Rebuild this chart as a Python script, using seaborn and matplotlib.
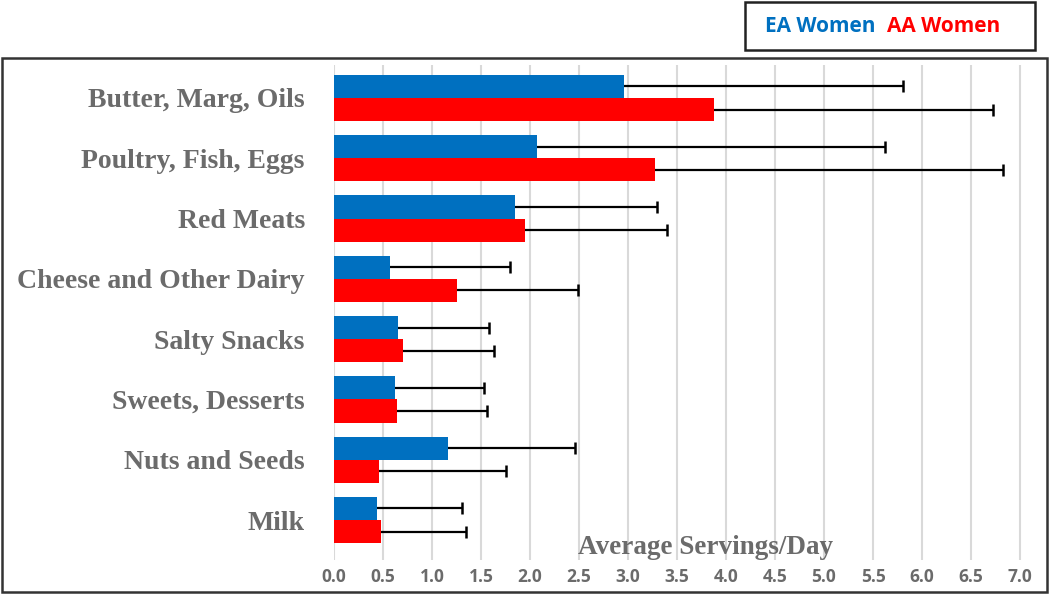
import numpy as np
import pandas as pd
import matplotlib.pyplot as plt
import seaborn as sns
from matplotlib.patches import Rectangle

# Données
categories = ["Butter, Marg, Oils", "Poultry, Fish, Eggs", "Red Meats", "Cheese and Other Dairy",
              "Salty Snacks", "Sweets, Desserts", "Nuts and Seeds", "Milk"]
ea_mean = [2.96, 2.07, 1.85, 0.57, 0.65, 0.62, 1.16, 0.44]
ea_sd = [2.85, 3.55, 1.45, 1.23, 0.93, 0.91, 1.30, 0.87]
aa_mean = [3.88, 3.28, 1.95, 1.26, 0.70, 0.64, 0.46, 0.48]
aa_sd = [2.84, 3.55, 1.45, 1.23, 0.93, 0.92, 1.30, 0.87]
groups = ["EA Women", "AA Women"]
colors = ["#0070C0", "#FF0000"]
xticks = [0.0, 0.5, 1.0, 1.5, 2.0, 2.5, 3.0, 3.5, 4.0, 4.5, 5.0, 5.5, 6.0, 6.5, 7.0]

df = pd.DataFrame({
    "food": categories * 2,
    "group": [groups[0]] * len(categories) + [groups[1]] * len(categories),
    "servings": ea_mean + aa_mean,
})

sns.set_style("white")
fig = plt.figure(figsize=(10.5, 5.95), dpi=100)
ax = fig.add_axes([334 / 1050, 1 - 560 / 595, (7.16 * 98.0) / 1050, (560 - 65) / 595])

sns.barplot(data=df, x="servings", y="food", hue="group", hue_order=groups,
            palette=colors, saturation=1, orient="h", width=0.77, dodge=True, legend=False,
            edgecolor="none", ax=ax, zorder=2)

# Barres d'erreur (un seul côté, capuchon à droite seulement)
for cont, sd in zip(ax.containers, [ea_sd, aa_sd]):
    xs = np.array([b.get_width() for b in cont])
    ys = np.array([b.get_y() + b.get_height() / 2 for b in cont])
    ends = xs + np.array(sd)
    ax.hlines(ys, xs, ends, color="black", linewidth=1.6, zorder=3)
    ax.plot(ends, ys, linestyle="none", marker="|", markersize=9, markeredgewidth=1.8,
            color="black", zorder=3)

ax.set_xlim(0, 7.16)
ax.set_ylim(7 + 40 / 60.3, -33 / 60.3)
ax.set_xticks(xticks)
ax.set_xticklabels([f"{t:.1f}" for t in xticks], fontsize=12.5, color="#6b6b6b",
                   fontweight="bold", family="Open Sans")
ax.set_yticks(range(len(categories)))
ax.set_yticklabels(categories, fontsize=20, color="#6b6b6b", fontweight="bold",
                   family="Liberation Serif")
ax.tick_params(axis="y", length=0, pad=21)
ax.tick_params(axis="x", length=0, pad=6)
ax.grid(axis="x", color="#d9d9d9", linewidth=1.5, zorder=0)
ax.set_axisbelow(True)
for s in ax.spines.values():
    s.set_visible(False)
ax.set_xlabel("")
ax.set_ylabel("")

fig.text(706 / 1050, 1 - 548 / 595, "Average Servings/Day", ha="center", va="center",
         fontsize=19.5, fontweight="bold", color="#6b6b6b", family="Liberation Serif")

# Cadre extérieur
fig.patches.append(Rectangle((2 / 1050, 1 - 592 / 595), 1045 / 1050, 534 / 595,
                             transform=fig.transFigure, fill=False, edgecolor="#333333",
                             linewidth=1.8))
# Légende
fig.patches.append(Rectangle((745 / 1050, 1 - 50 / 595), 290 / 1050, 48 / 595,
                             transform=fig.transFigure, fill=False, edgecolor="#222222",
                             linewidth=1.8))
fig.text(765 / 1050, 1 - 26 / 595, "EA Women", ha="left", va="center", fontsize=15,
         fontweight="bold", color=colors[0], family="Open Sans")
fig.text(1000 / 1050, 1 - 26 / 595, "AA Women", ha="right", va="center", fontsize=15,
         fontweight="bold", color=colors[1], family="Open Sans")

fig.savefig("out.png", dpi=100)
